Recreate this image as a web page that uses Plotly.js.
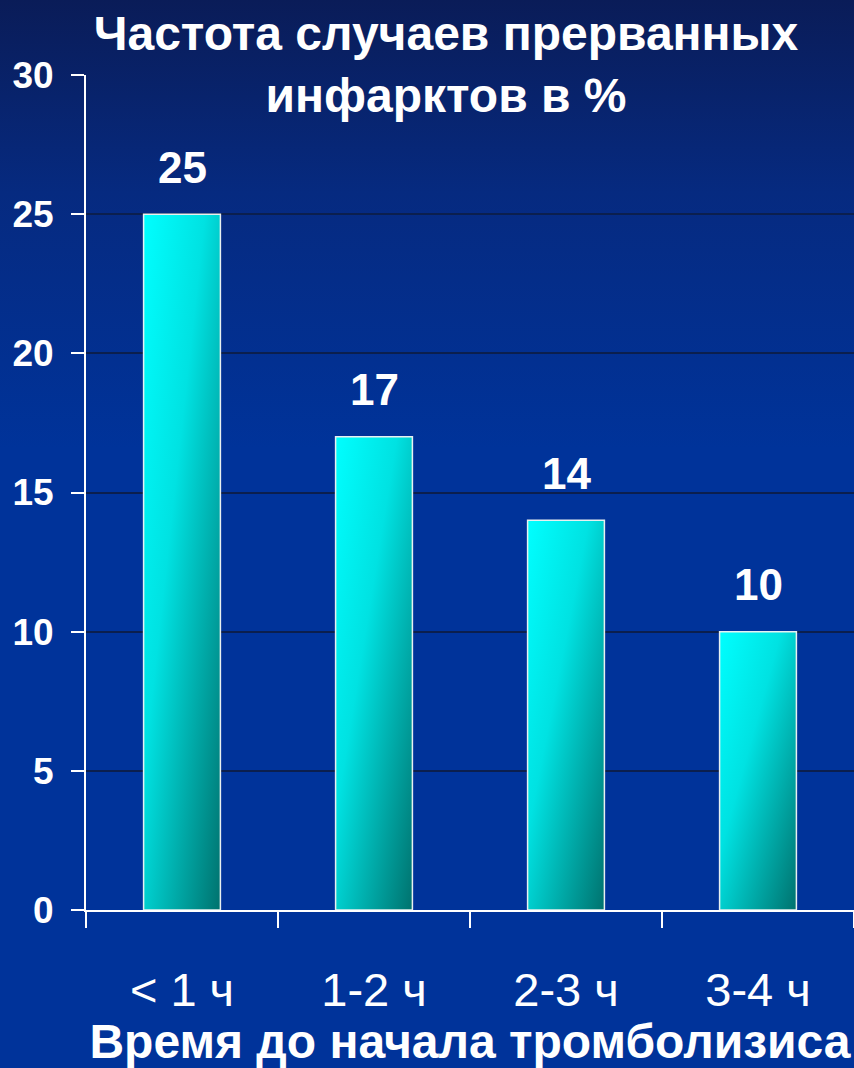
<!DOCTYPE html>
<html>
<head>
<meta charset="utf-8">
<script src="https://cdn.plot.ly/plotly-3.0.1.min.js"></script>
<style>
  html, body { margin: 0; padding: 0; }
  body {
    width: 854px; height: 1068px; overflow: hidden;
    background: linear-gradient(to bottom, #0a1c58 0%, #062a80 18%, #00339a 42%, #00339a 100%);
  }
  #chart { width: 854px; height: 1068px; }
</style>
</head>
<body>
<div id="chart"></div>
<script>
const categories = ['< 1 ч', '1-2 ч', '2-3 ч', '3-4 ч'];
const values = [25, 17, 14, 10];
const valueLabels = ['25', '17', '14', '10'];
const chartTitle = 'Частота случаев прерванных<br>инфарктов в %';
const xTitle = 'Время до начала тромболизиса';

const FONT = 'Liberation Sans, Arial, sans-serif';

const trace = {
  type: 'bar',
  x: categories,
  y: values,
  width: 0.4,
  marker: { color: '#00c8c8', line: { color: '#e8f0f0', width: 1.5 } },
  hoverinfo: 'skip'
};

const annotations = categories.map((c, i) => ({
  x: c, y: values[i], xref: 'x', yref: 'y',
  text: valueLabels[i], showarrow: false,
  yshift: 47, yanchor: 'middle',
  font: { family: FONT, size: 44, color: '#ffffff', weight: 'bold' }
}));

const layout = {
  width: 854, height: 1068,
  margin: { l: 86, r: 0, t: 75, b: 158 },
  paper_bgcolor: 'rgba(0,0,0,0)',
  plot_bgcolor: 'rgba(0,0,0,0)',
  showlegend: false,
  title: {
    text: chartTitle,
    x: 446 / 854, xanchor: 'center',
    y: 1 - 50 / 1068, yanchor: 'top',
    font: { family: FONT, size: 48, color: '#ffffff', weight: 'bold' }
  },
  xaxis: {
    type: 'category',
    showline: true, linecolor: '#ffffff', linewidth: 2,
    ticks: 'outside', tickson: 'boundaries', ticklen: 16, tickwidth: 2, tickcolor: '#ffffff',
    tickfont: { family: FONT, size: 47, color: '#ffffff' },
    ticklabelstandoff: 38,
    showgrid: false,
    title: {
      text: xTitle, standoff: 4,
      font: { family: FONT, size: 48, color: '#ffffff', weight: 'bold' }
    },
    automargin: false,
    fixedrange: true
  },
  yaxis: {
    range: [0, 30], dtick: 5,
    showline: true, linecolor: '#ffffff', linewidth: 2,
    ticks: 'outside', ticklen: 13, tickwidth: 2, tickcolor: '#ffffff',
    tickfont: { family: FONT, size: 37, color: '#ffffff', weight: 'bold' },
    ticklabelstandoff: 10,
    showgrid: true, gridcolor: '#0b1f4e', gridwidth: 2,
    zeroline: false,
    automargin: false,
    fixedrange: true
  },
  annotations: annotations
};

function applyGradient(gd) {
  const svg = gd.querySelector('svg.main-svg');
  if (!svg) return;
  const ns = 'http://www.w3.org/2000/svg';
  let defs = svg.querySelector('defs');
  if (!defs) { defs = document.createElementNS(ns, 'defs'); svg.insertBefore(defs, svg.firstChild); }
  if (!svg.querySelector('#barGrad')) {
    const lg = document.createElementNS(ns, 'linearGradient');
    lg.setAttribute('id', 'barGrad');
    lg.setAttribute('x1', '0'); lg.setAttribute('y1', '0');
    lg.setAttribute('x2', '1'); lg.setAttribute('y2', '1');
    [['0', '#00ffff'], ['0.4', '#00e2e2'], ['1', '#00726e']].forEach(([o, c]) => {
      const s = document.createElementNS(ns, 'stop');
      s.setAttribute('offset', o); s.setAttribute('stop-color', c);
      lg.appendChild(s);
    });
    defs.appendChild(lg);
  }
  gd.querySelectorAll('.barlayer .point path').forEach(p => {
    p.style.fill = 'url(#barGrad)';
  });
}

const gd = document.getElementById('chart');
Plotly.newPlot(gd, [trace], layout, { displayModeBar: false, staticPlot: true }).then(() => {
  applyGradient(gd);
  gd.on('plotly_afterplot', () => applyGradient(gd));
});
</script>
</body>
</html>
